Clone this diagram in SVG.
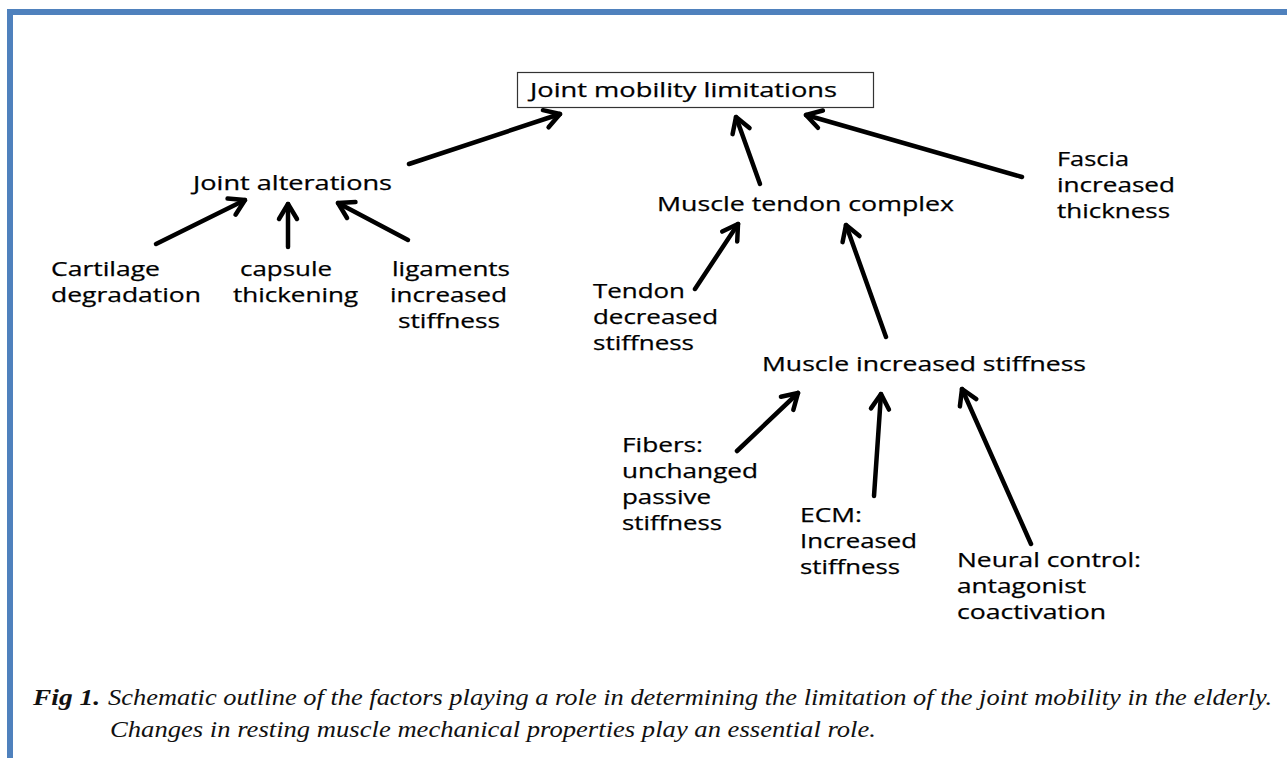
<svg xmlns="http://www.w3.org/2000/svg" width="1287" height="758" viewBox="0 0 1287 758">
<style>
.lbl{font-family:"Open Sans","DejaVu Sans",sans-serif;font-size:20px;fill:#000;stroke:#000;stroke-width:0.25}
.cap{font-family:"Times New Roman","Liberation Serif",Tinos,serif;font-size:23px;font-style:italic;fill:#111}
.conn line{stroke:#000;stroke-width:4.5;stroke-linecap:round;marker-end:url(#ah)}
</style>
<defs>
<marker id="ah" markerUnits="userSpaceOnUse" markerWidth="40" markerHeight="40" refX="0" refY="0" viewBox="-20 -20 40 40" orient="auto" overflow="visible">
<path d="M-15,-9 L0,0 L-15,9" fill="none" stroke="#000" stroke-width="4.5" stroke-linecap="round" stroke-linejoin="round"/>
</marker>
</defs>
<rect width="1287" height="758" fill="#fff"/>
<g id="frame" fill="#4F81BD">
<rect x="7" y="9" width="1280" height="6"/>
<rect x="7" y="9" width="6" height="749"/>
</g>
<g class="conn" id="connectors">
<line x1="409" y1="164" x2="560" y2="114"/>
<line x1="760" y1="184" x2="736" y2="117"/>
<line x1="1022" y1="177" x2="806" y2="115"/>
<line x1="156" y1="244" x2="245" y2="200"/>
<line x1="288" y1="247" x2="288" y2="204"/>
<line x1="408" y1="240" x2="338" y2="203"/>
<line x1="695" y1="289" x2="738" y2="224"/>
<line x1="886" y1="337" x2="846" y2="225"/>
<line x1="737" y1="451" x2="798" y2="393"/>
<line x1="874" y1="496" x2="881" y2="394"/>
<line x1="1031" y1="544" x2="962" y2="389"/>
</g>
<g id="n-root">
<rect x="517.5" y="72.5" width="356" height="35" fill="#fff" stroke="#333" stroke-width="1.2"/>
<text class="lbl" x="530" y="97" textLength="307" lengthAdjust="spacingAndGlyphs">Joint mobility limitations</text>
</g>
<g id="n-joint">
<text class="lbl" x="193" y="190" textLength="199" lengthAdjust="spacingAndGlyphs">Joint alterations</text>
</g>
<g id="n-cartilage">
<text class="lbl" x="51" y="276" textLength="109" lengthAdjust="spacingAndGlyphs">Cartilage</text>
<text class="lbl" x="51" y="302" textLength="150" lengthAdjust="spacingAndGlyphs">degradation</text>
</g>
<g id="n-capsule">
<text class="lbl" x="240" y="276" textLength="92" lengthAdjust="spacingAndGlyphs">capsule</text>
<text class="lbl" x="233" y="302" textLength="125" lengthAdjust="spacingAndGlyphs">thickening</text>
</g>
<g id="n-ligaments">
<text class="lbl" x="392" y="276" textLength="118" lengthAdjust="spacingAndGlyphs">ligaments</text>
<text class="lbl" x="390" y="302" textLength="117" lengthAdjust="spacingAndGlyphs">increased</text>
<text class="lbl" x="398" y="328" textLength="102" lengthAdjust="spacingAndGlyphs">stiffness</text>
</g>
<g id="n-mtc">
<text class="lbl" x="657" y="211" textLength="297" lengthAdjust="spacingAndGlyphs">Muscle tendon complex</text>
</g>
<g id="n-fascia">
<text class="lbl" x="1057" y="166" textLength="72" lengthAdjust="spacingAndGlyphs">Fascia</text>
<text class="lbl" x="1057" y="192" textLength="118" lengthAdjust="spacingAndGlyphs">increased</text>
<text class="lbl" x="1057" y="218" textLength="113" lengthAdjust="spacingAndGlyphs">thickness</text>
</g>
<g id="n-tendon">
<text class="lbl" x="593" y="298" textLength="92" lengthAdjust="spacingAndGlyphs">Tendon</text>
<text class="lbl" x="593" y="324" textLength="125" lengthAdjust="spacingAndGlyphs">decreased</text>
<text class="lbl" x="593" y="350" textLength="101" lengthAdjust="spacingAndGlyphs">stiffness</text>
</g>
<g id="n-mis">
<text class="lbl" x="762" y="371" textLength="324" lengthAdjust="spacingAndGlyphs">Muscle increased stiffness</text>
</g>
<g id="n-fibers">
<text class="lbl" x="622" y="452" textLength="81" lengthAdjust="spacingAndGlyphs">Fibers:</text>
<text class="lbl" x="622" y="478" textLength="136" lengthAdjust="spacingAndGlyphs">unchanged</text>
<text class="lbl" x="622" y="504" textLength="89" lengthAdjust="spacingAndGlyphs">passive</text>
<text class="lbl" x="622" y="530" textLength="100" lengthAdjust="spacingAndGlyphs">stiffness</text>
</g>
<g id="n-ecm">
<text class="lbl" x="800" y="522" textLength="62" lengthAdjust="spacingAndGlyphs">ECM:</text>
<text class="lbl" x="800" y="548" textLength="117" lengthAdjust="spacingAndGlyphs">Increased</text>
<text class="lbl" x="800" y="574" textLength="100" lengthAdjust="spacingAndGlyphs">stiffness</text>
</g>
<g id="n-neural">
<text class="lbl" x="957" y="567" textLength="184" lengthAdjust="spacingAndGlyphs">Neural control:</text>
<text class="lbl" x="957" y="593" textLength="129" lengthAdjust="spacingAndGlyphs">antagonist</text>
<text class="lbl" x="957" y="619" textLength="149" lengthAdjust="spacingAndGlyphs">coactivation</text>
</g>
<g id="caption">
<text class="cap" x="33" y="705" font-weight="bold" textLength="67" lengthAdjust="spacingAndGlyphs">Fig 1.</text>
<text class="cap" x="108" y="705" textLength="1164" lengthAdjust="spacingAndGlyphs">Schematic outline of the factors playing a role in determining the limitation of the joint mobility in the elderly.</text>
<text class="cap" x="110" y="737" textLength="766" lengthAdjust="spacingAndGlyphs">Changes in resting muscle mechanical properties play an essential role.</text>
</g>
</svg>
